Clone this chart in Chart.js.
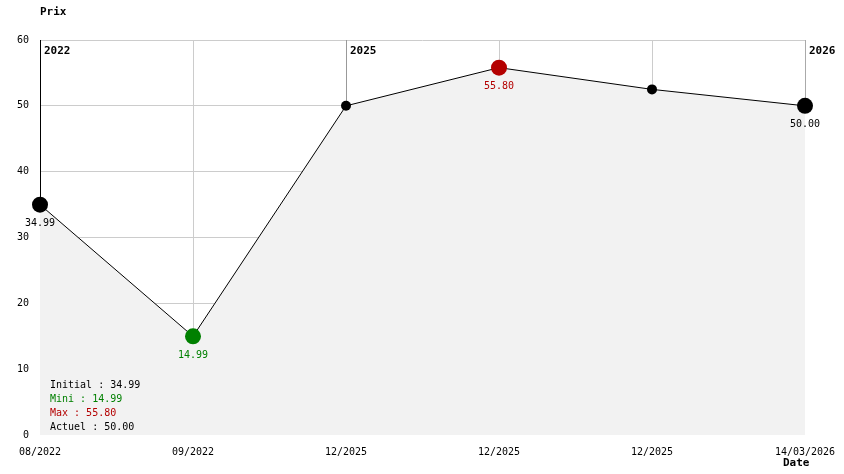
<!DOCTYPE html>
<html>
<head>
<meta charset="utf-8">
<script src="https://cdn.jsdelivr.net/npm/chart.js@4/dist/chart.umd.min.js"></script>
<style>
html,body{margin:0;padding:0;background:#fff;}
#wrap{width:844px;height:474px;position:relative;}
</style>
</head>
<body>
<div id="wrap"><canvas id="c" width="844" height="474"></canvas></div>
<script>
const categories = ['08/2022','09/2022','12/2025','12/2025','12/2025','14/03/2026'];
const prices = [34.99, 14.99, 50.00, 55.80, 52.50, 50.00];
const yTickMin = 0, yTickMax = 60, yTickStep = 10;
const markerIndex = [0, 2, 5];
const markerText = ['2022', '2025', '2026'];
const valueLabelIndex = [0, 1, 3, 5];
const summaryNames = ['Initial', 'Mini', 'Max', 'Actuel'];
const summaryValues = [34.99, 14.99, 55.80, 50.00];

const GREEN = '#008000', RED = '#b40000', BLACK = '#000000';
const MONO = '"DejaVu Sans Mono", monospace';

const minIdx = prices.indexOf(Math.min(...prices));
const maxIdx = prices.indexOf(Math.max(...prices));
const big = new Set([0, minIdx, maxIdx, prices.length - 1]);
const pointColors = prices.map((v, i) => i === minIdx ? GREEN : (i === maxIdx ? RED : BLACK));
const pointRadii = prices.map((v, i) => big.has(i) ? 8 : 5);
const summaryColors = [BLACK, GREEN, RED, BLACK];
const markerColors = ['#000000', '#999999', '#aaaaaa'];

const overlay = {
  id: 'overlay',
  beforeDatasetsDraw(chart) {
    const ctx = chart.ctx, xs = chart.scales.x, ys = chart.scales.y, top = chart.chartArea.top;
    ctx.save();
    ctx.lineWidth = 1;
    markerIndex.forEach((idx, k) => {
      const x = Math.round(xs.getPixelForValue(idx)) + 0.5;
      ctx.strokeStyle = markerColors[k];
      ctx.beginPath();
      ctx.moveTo(x, top);
      ctx.lineTo(x, ys.getPixelForValue(prices[idx]));
      ctx.stroke();
    });
    ctx.restore();
  },
  afterDatasetsDraw(chart) {
    const ctx = chart.ctx, xs = chart.scales.x, ys = chart.scales.y, area = chart.chartArea;
    ctx.save();
    ctx.textBaseline = 'middle';
    ctx.font = 'bold 11px ' + MONO;
    ctx.fillStyle = BLACK;
    ctx.textAlign = 'left';
    markerIndex.forEach((idx, k) => {
      ctx.fillText(markerText[k], xs.getPixelForValue(idx) + 4, area.top + 11);
    });
    ctx.font = '10px ' + MONO;
    ctx.textAlign = 'center';
    valueLabelIndex.forEach(idx => {
      ctx.fillStyle = pointColors[idx];
      ctx.fillText(prices[idx].toFixed(2), xs.getPixelForValue(idx), ys.getPixelForValue(prices[idx]) + 19);
    });
    ctx.textAlign = 'left';
    summaryNames.forEach((n, i) => {
      ctx.fillStyle = summaryColors[i];
      ctx.fillText(n + ' : ' + summaryValues[i].toFixed(2), area.left + 10, 385 + i * 14);
    });
    ctx.font = 'bold 11px ' + MONO;
    ctx.fillStyle = BLACK;
    ctx.fillText('Prix', area.left, 12);
    ctx.fillText('Date', 783, 463);
    ctx.restore();
  }
};

new Chart(document.getElementById('c'), {
  type: 'line',
  data: {
    labels: categories,
    datasets: [{
      data: prices,
      borderColor: '#000000',
      borderWidth: 1,
      backgroundColor: '#f2f2f2',
      fill: 'origin',
      tension: 0,
      pointRadius: pointRadii,
      pointHoverRadius: pointRadii,
      pointBackgroundColor: pointColors,
      pointBorderColor: pointColors,
      pointBorderWidth: 0,
      clip: false
    }]
  },
  options: {
    responsive: false,
    animation: false,
    events: [],
    layout: { padding: { top: 40, right: 39, left: 0, bottom: 0 } },
    plugins: { legend: { display: false }, tooltip: { enabled: false } },
    scales: {
      x: {
        type: 'category',
        offset: false,
        border: { display: false },
        grid: { color: c => (c.tick && markerIndex.includes(c.index)) ? 'rgba(0,0,0,0)' : '#cccccc', drawTicks: false, lineWidth: 1 },
        ticks: { autoSkip: false, maxRotation: 0, minRotation: 0, padding: 11, color: BLACK, font: { family: MONO, size: 10 } },
        afterFit(s) { s.height = 39; s.paddingLeft = 0; s.paddingRight = 0; }
      },
      y: {
        min: yTickMin, max: yTickMax,
        border: { display: false },
        grid: { color: c => (c.tick && c.tick.value === 0) ? 'rgba(0,0,0,0)' : '#cccccc', drawTicks: false, lineWidth: 1 },
        ticks: { stepSize: yTickStep, padding: 11, color: BLACK, font: { family: MONO, size: 10 } },
        afterFit(s) { s.width = 40; s.paddingTop = 0; s.paddingBottom = 0; }
      }
    }
  },
  plugins: [overlay]
});
</script>
</body>
</html>
